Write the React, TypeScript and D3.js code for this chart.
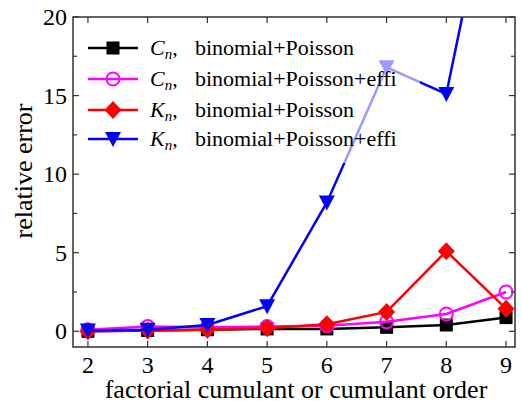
import React from "react";
import * as d3 from "d3";

const orders = [2, 3, 4, 5, 6, 7, 8, 9];
const cnBinPoi = [0.0, 0.05, 0.1, 0.15, 0.15, 0.25, 0.4, 0.87];
const cnBinPoiEffi = [0.1, 0.3, 0.25, 0.3, 0.35, 0.6, 1.1, 2.5];
const knBinPoi = [0.0, 0.05, 0.1, 0.2, 0.45, 1.23, 5.1, 1.44];
const knBinPoiEffi = [0.05, 0.1, 0.4, 1.6, 8.2, 16.8, 15.1, 33.5];
const yTicks = [0, 5, 10, 15, 20];
const yMinor = [2.5, 7.5, 12.5, 17.5];
const seriesNames = ["binomial+Poisson", "binomial+Poisson+effi", "binomial+Poisson", "binomial+Poisson+effi"];
const seriesSym = ["C", "C", "K", "K"];

const W = 522, H = 409;
const L = 73, R = 515, T = 17, B = 347;
const ff = "Liberation Serif";

export default function App() {
  const x = d3.scaleLinear().domain([1.75, 9.15]).range([L, R]);
  const y = d3.scaleLinear().domain([-1, 20]).range([B, T]);
  const line = d3.line<number>().x((_, i) => x(orders[i])).y((d) => y(d));
  const series = [
    { data: cnBinPoi, color: "#000000", marker: "square" },
    { data: cnBinPoiEffi, color: "#ff00ff", marker: "circle" },
    { data: knBinPoi, color: "#ff0000", marker: "diamond" },
    { data: knBinPoiEffi, color: "#0000ff", marker: "tri" },
  ];
  const marker = (m: string, c: string, cx: number, cy: number, key: any) => {
    if (m === "square") return <rect key={key} x={cx - 6.5} y={cy - 6.5} width={13} height={13} fill={c} />;
    if (m === "circle") return <circle key={key} cx={cx} cy={cy} r={6.5} fill="none" stroke={c} strokeWidth={2} />;
    if (m === "diamond") return <path key={key} d={`M${cx},${cy - 9}L${cx + 8.5},${cy}L${cx},${cy + 9}L${cx - 8.5},${cy}Z`} fill={c} />;
    return <path key={key} d={`M${cx - 8},${cy - 7}L${cx + 8},${cy - 7}L${cx},${cy + 8}Z`} fill={c} />;
  };
  const legY = [48, 79, 110, 139];
  return (
    <svg width={W} height={H} style={{ position: "absolute", left: 0, top: 0 }}>
      <rect width={W} height={H} fill="#fff" />
      <defs>
        <clipPath id="plot"><rect x={L} y={T} width={R - L} height={B - T} /></clipPath>
      </defs>
      <g clipPath="url(#plot)">
        {series.map((s, si) => (
          <g key={si}>
            <path d={line(s.data) || ""} fill="none" stroke={s.color} strokeWidth={2.5} />
            {s.data.map((v, i) => marker(s.marker, s.color, x(orders[i]), y(v), i))}
          </g>
        ))}
      </g>
      {/* legend */}
      <rect x={78} y={27} width={342} height={136} fill="#fff" fillOpacity={0.6} />
      {series.map((s, i) => (
        <g key={i}>
          <line x1={88} x2={138} y1={legY[i]} y2={legY[i]} stroke={s.color} strokeWidth={2.5} />
          {marker(s.marker, s.color, 113, legY[i], "m")}
          <text x={150} y={legY[i] + 7} style={{ fontFamily: ff }} fontSize={22}>
            <tspan fontStyle="italic">{seriesSym[i]}</tspan>
            <tspan fontStyle="italic" fontSize={15} dy={4}>n</tspan>
            <tspan dy={-4}>,</tspan>
          </text>
          <text x={195} y={legY[i] + 7} style={{ fontFamily: ff }} fontSize={22}>{seriesNames[i]}</text>
        </g>
      ))}
      {/* frame */}
      <rect x={L} y={T} width={R - L} height={B - T} fill="none" stroke="#333" strokeWidth={1.5} />
      {orders.map((o) => (
        <g key={o}>
          <line x1={x(o)} x2={x(o)} y1={B} y2={B - 6} stroke="#333" strokeWidth={1.2} />
          <line x1={x(o)} x2={x(o)} y1={T} y2={T + 6} stroke="#333" strokeWidth={1.2} />
          <text x={x(o)} y={B + 26} textAnchor="middle" style={{ fontFamily: ff }} fontSize={24}>{o}</text>
        </g>
      ))}
      {yTicks.map((t) => (
        <g key={t}>
          <line x1={L} x2={L + 6} y1={y(t)} y2={y(t)} stroke="#333" strokeWidth={1.2} />
          <line x1={R} x2={R - 6} y1={y(t)} y2={y(t)} stroke="#333" strokeWidth={1.2} />
          <text x={L - 6} y={y(t) + 8} textAnchor="end" style={{ fontFamily: ff }} fontSize={24}>{t}</text>
        </g>
      ))}
      {yMinor.map((t) => (
        <g key={t}>
          <line x1={L} x2={L + 4} y1={y(t)} y2={y(t)} stroke="#333" strokeWidth={1.2} />
          <line x1={R} x2={R - 4} y1={y(t)} y2={y(t)} stroke="#333" strokeWidth={1.2} />
        </g>
      ))}
      <text x={296} y={398} textAnchor="middle" style={{ fontFamily: ff }} fontSize={26}>factorial cumulant or cumulant order</text>
      <text transform={`translate(32,${171}) rotate(-90)`} textAnchor="middle" style={{ fontFamily: ff }} fontSize={26}>relative error</text>
    </svg>
  );
}
